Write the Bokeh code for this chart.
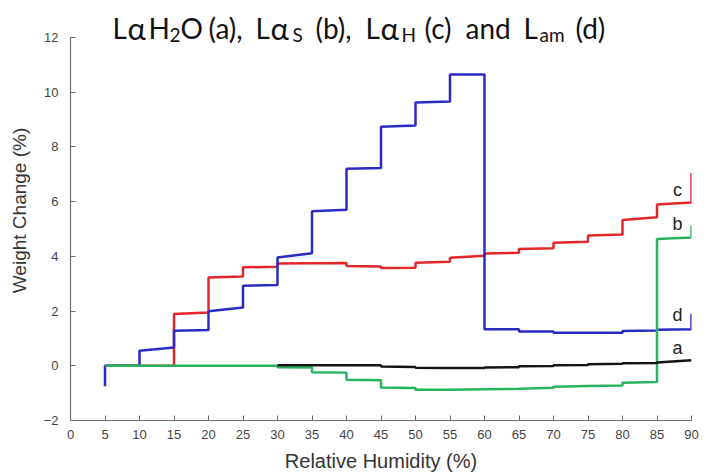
from bokeh.plotting import figure
from bokeh.models import Label, FixedTicker, Range1d
from bokeh.embed import file_html
from bokeh.resources import INLINE

# ---- data (Relative Humidity %, Weight Change %) ----
rh_a = [30, 45, 45, 50, 50, 55, 60, 60, 65, 65, 70, 70, 75, 75, 80, 80, 85, 85, 90]
wt_a = [0.02, 0.02, -0.03, -0.04, -0.07, -0.08, -0.08, -0.06, -0.05, -0.02, -0.01, 0.02, 0.03, 0.06, 0.07, 0.09, 0.10, 0.12, 0.20]

rh_b = [5, 30, 30, 35, 35, 40, 40, 45, 45, 50, 50, 55, 60, 65, 70, 70, 75, 80, 80, 85, 85, 90, 90]
wt_b = [0.0, 0.0, -0.05, -0.06, -0.24, -0.25, -0.51, -0.53, -0.79, -0.81, -0.88, -0.88, -0.86, -0.84, -0.80, -0.77, -0.74, -0.72, -0.62, -0.59, 4.63, 4.69, 5.12]

rh_c = [5, 15, 15, 20, 20, 25, 25, 30, 30, 40, 40, 45, 45, 50, 50, 55, 55, 60, 60, 65, 65, 70, 70, 75, 75, 80, 80, 85, 85, 90, 90]
wt_c = [0.0, 0.0, 1.89, 1.95, 3.23, 3.26, 3.60, 3.62, 3.74, 3.76, 3.65, 3.63, 3.57, 3.58, 3.77, 3.80, 3.95, 4.02, 4.10, 4.13, 4.27, 4.30, 4.50, 4.53, 4.76, 4.80, 5.33, 5.43, 5.90, 5.97, 7.05]

rh_d = [5, 5, 10, 10, 15, 15, 20, 20, 25, 25, 30, 30, 35, 35, 40, 40, 45, 45, 50, 50, 55, 55, 60, 60, 65, 65, 70, 70, 80, 80, 85, 85, 90, 90]
wt_d = [-0.75, 0.0, 0.0, 0.55, 0.67, 1.28, 1.31, 1.99, 2.13, 2.93, 2.95, 3.96, 4.11, 5.65, 5.70, 7.20, 7.23, 8.74, 8.78, 9.62, 9.66, 10.65, 10.65, 1.34, 1.34, 1.25, 1.25, 1.21, 1.21, 1.27, 1.29, 1.32, 1.34, 1.90]

x_ticks = list(range(0, 91, 5))
y_ticks = list(range(-2, 13, 2))

# ---- layout geometry (pixels) ----
FRAME_LEFT, FRAME_RIGHT, FRAME_BOTTOM, AXIS_TOP = 70, 691, 420, 37
W, H = 707, 475
px_per_x = (FRAME_RIGHT - FRAME_LEFT) / 90
px_per_y = (FRAME_BOTTOM - AXIS_TOP) / 14
y_top = 12 + AXIS_TOP / px_per_y   # frame extends to canvas top so the title fits inside

p = figure(width=W, height=H, x_range=Range1d(0, 90), y_range=Range1d(-2, y_top),
           output_backend="svg", toolbar_location=None,
           min_border_left=FRAME_LEFT, min_border_right=W - FRAME_RIGHT,
           min_border_top=0, min_border_bottom=H - FRAME_BOTTOM)
p.xgrid.visible = False
p.ygrid.visible = False
p.outline_line_color = None
p.background_fill_color = "white"
p.border_fill_color = "white"

for ax in (p.xaxis[0], p.yaxis[0]):
    ax.axis_line_color = "#6a6a6a"
    ax.axis_line_width = 1.2
    ax.major_tick_line_color = "#6a6a6a"
    ax.major_tick_in = 5
    ax.major_tick_out = 0
    ax.minor_tick_line_color = None
    ax.major_label_text_font = "Liberation Sans"
    ax.major_label_text_font_size = "13px"
    ax.major_label_text_color = "#444444"
    ax.axis_label_text_font = "Liberation Sans"
    ax.axis_label_text_font_style = "normal"
    ax.axis_label_text_color = "#333333"

p.yaxis.bounds = (-2, 12)
p.xaxis.ticker = FixedTicker(ticks=x_ticks)
p.yaxis.ticker = FixedTicker(ticks=y_ticks)
p.xaxis.axis_label = "Relative Humidity (%)"
p.yaxis.axis_label = "Weight Change (%)"
p.xaxis.axis_label_text_font_size = "20px"
p.yaxis.axis_label_text_font_size = "19px"
p.xaxis.major_label_standoff = 9
p.yaxis.major_label_standoff = 12
p.xaxis.axis_label_standoff = 8
p.yaxis.axis_label_standoff = 11

LW = 2.5
p.line(rh_c, wt_c, line_color="#e3262b", line_width=LW)
p.line(rh_d, wt_d, line_color="#2b2bc4", line_width=LW)
p.line(rh_b, wt_b, line_color="#26b35e", line_width=LW)
p.line(rh_a, wt_a, line_color="#141414", line_width=LW)

# pixel -> data helpers for annotation placement
def dx(px):
    return (px - FRAME_LEFT) / px_per_x

def dy(py):
    return (FRAME_BOTTOM - py) / px_per_y - 2

# series letters (vertical middle positions in pixels)
for name, py in zip(["c", "b", "d", "a"], [189, 223, 314, 347]):
    p.add_layout(Label(x=dx(677), y=dy(py), text=name, text_align="center",
                       text_baseline="middle", text_font="Liberation Sans",
                       text_font_size="18px", text_color="#222222"))

# title built from pieces (main text + subscripts)
MAIN = "28px"
ALPHA = "31px"
SUB = "19px"
YM, YA, YS = 27, 27, 34
pieces = [
    ("L", 112, MAIN, YM), ("α", 127, ALPHA, YA), ("H", 148, MAIN, YM), ("2", 169, SUB, YS),
    ("O", 180, MAIN, YM), ("(a),", 208, MAIN, YM),
    ("L", 255, MAIN, YM), ("α", 270, ALPHA, YA), ("S", 292, SUB, YS), ("(b),", 315, MAIN, YM),
    ("L", 365, MAIN, YM), ("α", 380, ALPHA, YA), ("H", 401, SUB, YS),
    ("(c)", 424, MAIN, YM), ("and", 465, MAIN, YM), ("L", 523, MAIN, YM),
    ("am", 539, SUB, YS), ("(d)", 575, MAIN, YM),
]
for txt, px, size, py in pieces:
    p.add_layout(Label(x=dx(px), y=dy(py), text=txt, text_align="left",
                       text_baseline="middle", text_font="Lato",
                       text_font_size=size, text_color="#111111"))

open("out.html", "w").write(file_html(p, INLINE))
